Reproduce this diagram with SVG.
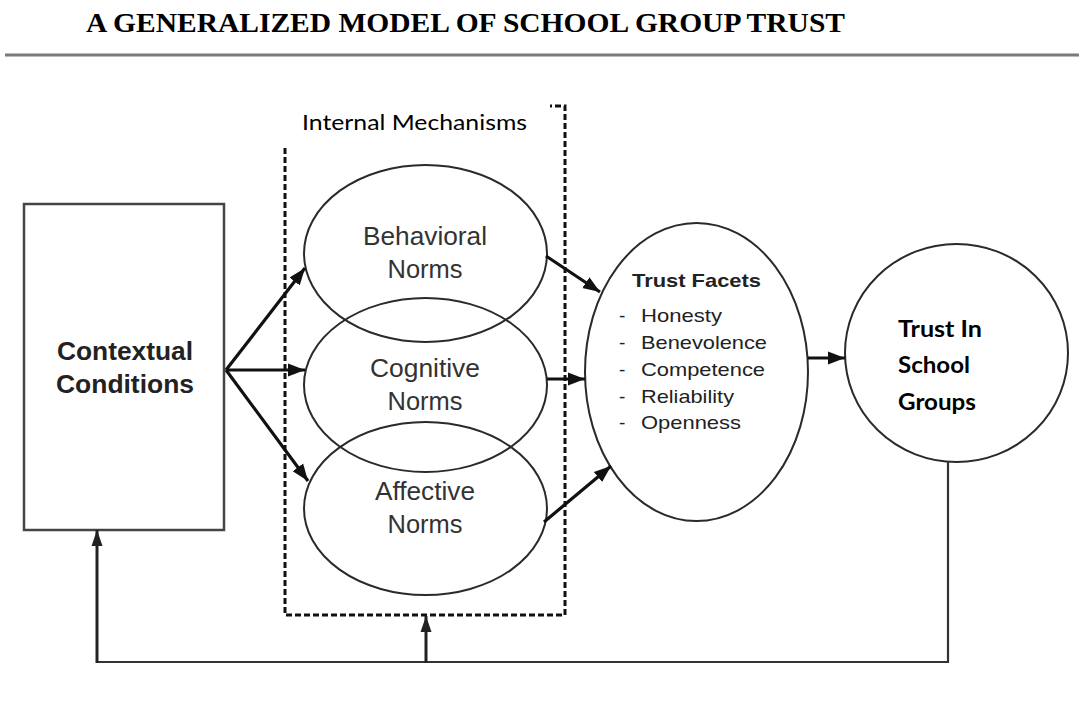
<svg xmlns="http://www.w3.org/2000/svg" width="1079" height="702" viewBox="0 0 1079 702">
  <style>
    .title { font-family: "Liberation Serif", "Times New Roman", serif; font-weight: bold; font-size: 28px; fill: #000; }
    .shape { fill: none; stroke: #2a2a2a; stroke-width: 2; }
    .box { fill: none; stroke: #444; stroke-width: 2.5; }
    .dash { fill: none; stroke: #111; stroke-width: 3; stroke-dasharray: 6 3; }
    .label { font-family: "Liberation Sans", Arial, Helvetica, sans-serif; font-size: 25px; fill: #333; text-anchor: middle; }
    .bold { font-weight: bold; fill: #222; }
    .facet { font-family: "Liberation Sans", Arial, Helvetica, sans-serif; font-size: 19px; fill: #222; }
    .cal { font-family: Lato, "Open Sans", "Liberation Sans", sans-serif; fill: #000; }
    .flow { fill: none; stroke: #111; stroke-width: 3.2; marker-end: url(#head); }
    .back { fill: none; stroke: #333; stroke-width: 2.2; }
    .backarrow { fill: none; stroke: #222; stroke-width: 3; marker-end: url(#headSmall); }
  </style>
  <defs>
    <marker id="head" markerUnits="userSpaceOnUse" markerWidth="18" markerHeight="14" refX="17" refY="7" orient="auto">
      <path d="M0,0.5 L17,7 L0,13.5 Z" fill="#111"/>
    </marker>
    <marker id="headSmall" markerUnits="userSpaceOnUse" markerWidth="16" markerHeight="12" refX="16" refY="6" orient="auto">
      <path d="M0,0.5 L16,6 L0,11.5 Z" fill="#222"/>
    </marker>
  </defs>

  <rect width="1079" height="702" fill="#fff"/>

  <!-- heading and rule -->
  <g id="heading">
    <text class="title" x="86" y="32" textLength="759" lengthAdjust="spacingAndGlyphs">A GENERALIZED MODEL OF SCHOOL GROUP TRUST</text>
    <line x1="5" y1="55" x2="1079" y2="55" stroke="#7a7a7a" stroke-width="3"/>
  </g>

  <!-- internal mechanisms frame, its top edge hidden behind the label -->
  <g id="internal-mechanisms">
    <rect class="dash" x="285" y="106" width="280" height="509"/>
    <rect x="278" y="96" width="272" height="51" fill="#fff"/>
    <text class="cal" x="302" y="130" font-size="21" textLength="225" lengthAdjust="spacingAndGlyphs">Internal Mechanisms</text>
  </g>

  <g id="contextual-conditions">
    <rect class="box" x="24" y="204" width="200" height="326"/>
    <text class="label bold" x="125" y="360" textLength="136" lengthAdjust="spacingAndGlyphs">Contextual</text>
    <text class="label bold" x="125" y="393" textLength="138" lengthAdjust="spacingAndGlyphs">Conditions</text>
  </g>

  <g id="behavioral-norms">
    <ellipse class="shape" cx="425.5" cy="253.5" rx="121.5" ry="88.5"/>
    <text class="label" x="425" y="245" textLength="124" lengthAdjust="spacingAndGlyphs">Behavioral</text>
    <text class="label" x="425" y="278" textLength="75" lengthAdjust="spacingAndGlyphs">Norms</text>
  </g>

  <g id="cognitive-norms">
    <ellipse class="shape" cx="425.5" cy="385" rx="121.5" ry="87"/>
    <text class="label" x="425" y="377" textLength="110" lengthAdjust="spacingAndGlyphs">Cognitive</text>
    <text class="label" x="425" y="410" textLength="75" lengthAdjust="spacingAndGlyphs">Norms</text>
  </g>

  <g id="affective-norms">
    <ellipse class="shape" cx="425.5" cy="508.5" rx="121.5" ry="86.5"/>
    <text class="label" x="425" y="500" textLength="100" lengthAdjust="spacingAndGlyphs">Affective</text>
    <text class="label" x="425" y="533" textLength="75" lengthAdjust="spacingAndGlyphs">Norms</text>
  </g>

  <g id="trust-facets">
    <ellipse class="shape" cx="696.5" cy="372" rx="111.5" ry="149"/>
    <text class="facet bold" x="632" y="287" font-size="21" textLength="129" lengthAdjust="spacingAndGlyphs">Trust Facets</text>
    <g class="facet">
      <text x="619" y="322">-</text><text x="641" y="322" textLength="81" lengthAdjust="spacingAndGlyphs">Honesty</text>
      <text x="619" y="349">-</text><text x="641" y="349" textLength="126" lengthAdjust="spacingAndGlyphs">Benevolence</text>
      <text x="619" y="376">-</text><text x="641" y="376" textLength="124" lengthAdjust="spacingAndGlyphs">Competence</text>
      <text x="619" y="403">-</text><text x="641" y="403" textLength="93" lengthAdjust="spacingAndGlyphs">Reliability</text>
      <text x="619" y="429">-</text><text x="641" y="429" textLength="100" lengthAdjust="spacingAndGlyphs">Openness</text>
    </g>
  </g>

  <g id="trust-in-school-groups">
    <ellipse class="shape" cx="956.5" cy="353" rx="111.5" ry="109"/>
    <g class="cal" font-size="23" font-weight="bold">
      <text x="898" y="337" textLength="84" lengthAdjust="spacingAndGlyphs">Trust In</text>
      <text x="898" y="373" textLength="72" lengthAdjust="spacingAndGlyphs">School</text>
      <text x="898" y="410" textLength="78" lengthAdjust="spacingAndGlyphs">Groups</text>
    </g>
  </g>

  <g id="connectors">
    <line class="flow" x1="226" y1="370" x2="305" y2="268"/>
    <line class="flow" x1="226" y1="370" x2="305" y2="370"/>
    <line class="flow" x1="226" y1="370" x2="308" y2="481"/>
    <line class="flow" x1="546" y1="256" x2="600" y2="292"/>
    <line class="flow" x1="547" y1="379" x2="585" y2="379"/>
    <line class="flow" x1="544" y1="522" x2="611" y2="466"/>
    <line class="flow" x1="808" y1="358" x2="845" y2="358"/>
    <polyline class="back" points="948,462 948,662 97,662"/>
    <line class="backarrow" x1="97" y1="663" x2="97" y2="530"/>
    <line class="backarrow" x1="426" y1="663" x2="426" y2="616"/>
  </g>
</svg>
